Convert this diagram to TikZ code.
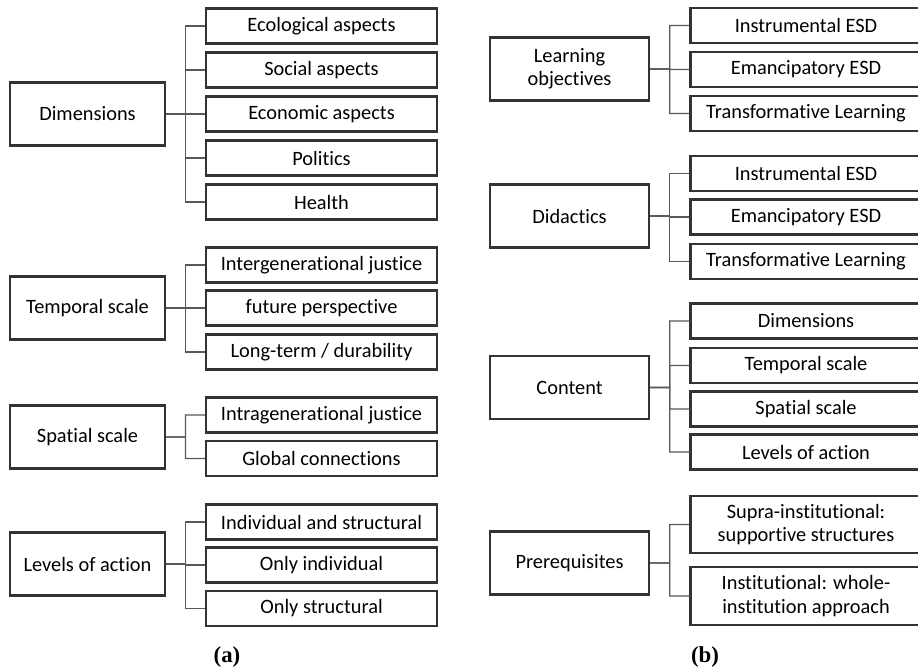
\documentclass[tikz,border=0pt]{standalone}
\usepackage{fontspec}
\setmainfont{Carlito}[Ligatures=NoCommon]
\newfontfamily\capfont{Liberation Serif}
\usepackage{tikz}
\usetikzlibrary{calc}

\tikzset{
  topic/.style={draw=black!80, line width=1.2pt, minimum width=3.1cm, minimum height=1.26cm,
    align=center, font=\fontsize{11.6}{13.2}\selectfont},
  item/.style={draw=black!80, line width=1.2pt, minimum width=4.62cm, minimum height=0.7cm,
    align=center, font=\fontsize{11.6}{13.2}\selectfont},
  tall/.style={item, minimum height=1.15cm},
  branch/.style={draw=black!65, line width=0.6pt},
  panel/.style={font=\capfont\bfseries\fontsize{13}{15}\selectfont}
}

\begin{document}
\begin{tikzpicture}[x=0.02cm, y=-0.02cm]
    %FRAME
    \clip (0,0) rectangle (918,670);
    \fill[white] (0,0) rectangle (918,670);
    %PANEL A
    \node[topic] (dim) at (87.5,114) {Dimensions};
    \node[item] (dim1) at (321.5,26) {Ecological aspects};
    \node[item] (dim2) at (321.5,70) {Social aspects};
    \node[item] (dim3) at (321.5,114) {Economic aspects};
    \node[item] (dim4) at (321.5,158) {Politics};
    \node[item] (dim5) at (321.5,202) {Health};

    \node[topic] (tmp) at (87.5,308) {Temporal scale};
    \node[item] (tmp1) at (321.5,265) {Intergenerational justice};
    \node[item] (tmp2) at (321.5,308) {future perspective};
    \node[item] (tmp3) at (321.5,352) {Long-term / durability};

    \node[topic] (spa) at (87.5,437) {Spatial scale};
    \node[item] (spa1) at (321.5,415) {Intragenerational justice};
    \node[item] (spa2) at (321.5,458.5) {Global connections};

    \node[topic] (lev) at (87.5,564) {Levels of action};
    \node[item] (lev1) at (321.5,522) {Individual and structural};
    \node[item] (lev2) at (321.5,565) {Only individual};
    \node[item] (lev3) at (321.5,608.5) {Only structural};

    \node[panel] (capa) at (227,657) {(a)};
    %PANEL B
    \node[topic, minimum width=3.18cm] (obj) at (569.5,69) {Learning\\objectives};
    \node[item] (obj1) at (806,25.5) {Instrumental ESD};
    \node[item] (obj2) at (806,69.5) {Emancipatory ESD};
    \node[item] (obj3) at (806,113.5) {Transformative Learning};

    \node[topic, minimum width=3.18cm] (did) at (569.5,216) {Didactics};
    \node[item] (did1) at (806,173.5) {Instrumental ESD};
    \node[item] (did2) at (806,217) {Emancipatory ESD};
    \node[item] (did3) at (806,261.5) {Transformative Learning};

    \node[topic, minimum width=3.18cm] (con) at (569.5,387.5) {Content};
    \node[item] (con1) at (806,321) {Dimensions};
    \node[item] (con2) at (806,365.5) {Temporal scale};
    \node[item] (con3) at (806,409) {Spatial scale};
    \node[item] (con4) at (806,452) {Levels of action};

    \node[topic, minimum width=3.18cm] (pre) at (569.5,563) {Prerequisites};
    \node[tall] (pre1) at (806,524.5) {Supra-institutional:\\supportive structures};
    \node[tall] (pre2) at (806,596) {Institutional: whole-\\institution approach};

    \node[panel] (capb) at (705,657) {(b)};
    %BRANCHES
    \foreach \p/\c in {dim/dim1,dim/dim2,dim/dim3,dim/dim4,dim/dim5,
        tmp/tmp1,tmp/tmp2,tmp/tmp3,spa/spa1,spa/spa2,lev/lev1,lev/lev2,lev/lev3,
        obj/obj1,obj/obj2,obj/obj3,did/did1,did/did2,did/did3,
        con/con1,con/con2,con/con3,con/con4,pre/pre1,pre/pre2}
      \draw[branch] (\p.east) -- ($(\p.east)!0.5!(\c.west |- \p.east)$) |- (\c.west);
\end{tikzpicture}
\end{document}
